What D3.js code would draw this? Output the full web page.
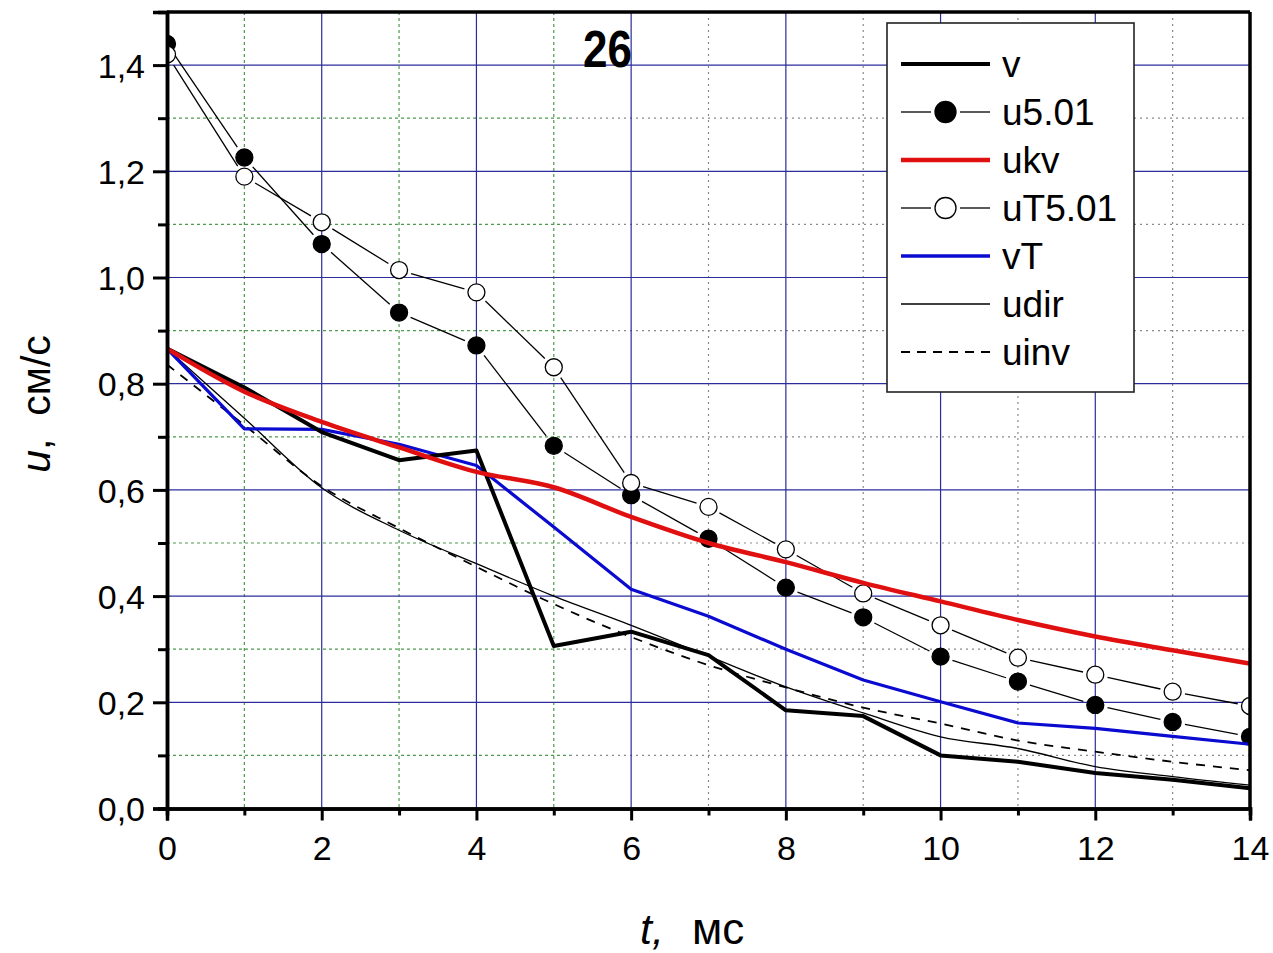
<!DOCTYPE html>
<html>
<head>
<meta charset="utf-8">
<script src="https://cdn.jsdelivr.net/npm/d3@7"></script>
<style>
  html, body { margin: 0; padding: 0; background: #fff; }
  svg { display: block; font-family: "Liberation Sans", Arial, sans-serif; }
</style>
</head>
<body>
<svg id="chart" width="1273" height="953"></svg>
<script>
// Time points, ms
const times = [0, 1, 2, 3, 4, 5, 6, 7, 8, 9, 10, 11, 12, 13, 14];

// Velocity series, cm/s
const v      = [0.866, 0.793, 0.709, 0.656, 0.674, 0.306, 0.333, 0.289, 0.185, 0.174, 0.100, 0.088, 0.067, 0.054, 0.038];
const u501   = [1.440, 1.226, 1.063, 0.934, 0.872, 0.683, 0.590, 0.508, 0.416, 0.360, 0.286, 0.239, 0.195, 0.163, 0.135];
const ukv    = [0.866, 0.785, 0.728, 0.680, 0.634, 0.605, 0.549, 0.500, 0.464, 0.425, 0.390, 0.355, 0.324, 0.298, 0.273];
const uT501  = [1.420, 1.190, 1.104, 1.014, 0.972, 0.831, 0.613, 0.568, 0.488, 0.405, 0.345, 0.284, 0.252, 0.220, 0.193];
const vT     = [0.866, 0.715, 0.714, 0.686, 0.646, 0.530, 0.413, 0.362, 0.300, 0.242, 0.201, 0.161, 0.151, 0.136, 0.121];
const udir   = [0.866, 0.735, 0.604, 0.524, 0.461, 0.400, 0.345, 0.287, 0.229, 0.180, 0.135, 0.113, 0.079, 0.060, 0.044];
const uinv   = [0.836, 0.722, 0.607, 0.528, 0.455, 0.385, 0.323, 0.270, 0.228, 0.190, 0.160, 0.128, 0.107, 0.088, 0.072];

// Axis ticks
const xMajorTicks = [0, 2, 4, 6, 8, 10, 12, 14];
const xMinorTicks = [1, 3, 5, 7, 9, 11, 13];
const yMajorTicks = [0, 0.2, 0.4, 0.6, 0.8, 1.0, 1.2, 1.4];
const yMinorTicks = [0.1, 0.3, 0.5, 0.7, 0.9, 1.1, 1.3];

const panelLabel = "26";
const legendNames = ["v", "u5.01", "ukv", "uT5.01", "vT", "udir", "uinv"];

const svg = d3.select("#chart");
const L = 167, R = 1250, T = 12, B = 808.5;

const x = d3.scaleLinear().domain([0, 14]).range([L, R]);
const y = d3.scaleLinear().domain([0, 1.5]).range([B, T]);

const gridBlue = "#2c2c9c";
const gridGreen = "#4f9a4f";
const gridGray = "#8a8a8a";
const greenEnd = 570;

// clip region for the plot
svg.append("defs").append("clipPath").attr("id", "plotClip")
  .append("rect").attr("x", L).attr("y", T).attr("width", R - L).attr("height", B - T);

const grid = svg.append("g");

// minor horizontal grid: green on the left part, gray on the right
yMinorTicks.forEach(d => {
  grid.append("line").attr("x1", L).attr("x2", greenEnd).attr("y1", y(d)).attr("y2", y(d))
    .attr("stroke", gridGreen).attr("stroke-width", 1.2).attr("stroke-dasharray", "3,3");
  grid.append("line").attr("x1", greenEnd).attr("x2", R).attr("y1", y(d)).attr("y2", y(d))
    .attr("stroke", gridGray).attr("stroke-width", 1.2).attr("stroke-dasharray", "2,4");
});
// minor vertical grid
xMinorTicks.forEach(d => {
  grid.append("line").attr("x1", x(d)).attr("x2", x(d)).attr("y1", T).attr("y2", B)
    .attr("stroke", d <= 5 ? gridGreen : gridGray).attr("stroke-width", 1.2)
    .attr("stroke-dasharray", d <= 5 ? "3,3" : "2,4");
});
// major grid
yMajorTicks.filter(d => d > 0).forEach(d => {
  grid.append("line").attr("x1", L).attr("x2", R).attr("y1", y(d)).attr("y2", y(d))
    .attr("stroke", gridBlue).attr("stroke-width", 1.2);
});
xMajorTicks.filter(d => d > 0 && d < 14).forEach(d => {
  grid.append("line").attr("x1", x(d)).attr("x2", x(d)).attr("y1", T).attr("y2", B)
    .attr("stroke", gridBlue).attr("stroke-width", 1.2);
});

const plot = svg.append("g").attr("clip-path", "url(#plotClip)");

function series(vals) { return times.map((t, i) => [t, vals[i]]); }

const lineLinear = d3.line().x(d => x(d[0])).y(d => y(d[1]));
const lineSmooth = d3.line().x(d => x(d[0])).y(d => y(d[1])).curve(d3.curveMonotoneX);

// thin reference curves
plot.append("path").attr("d", lineSmooth(series(udir)))
  .attr("fill", "none").attr("stroke", "#000").attr("stroke-width", 1.3);
plot.append("path").attr("d", lineSmooth(series(uinv)))
  .attr("fill", "none").attr("stroke", "#000").attr("stroke-width", 1.8).attr("stroke-dasharray", "9,8");

// marker series: connecting segments with gaps around the symbols
const markerR = 8.5;
function markerSeries(vals, filled) {
  const pts = series(vals).map(d => [x(d[0]), y(d[1])]);
  const g = plot.append("g");
  for (let i = 0; i < pts.length - 1; i++) {
    const [x1, y1] = pts[i], [x2, y2] = pts[i + 1];
    const len = Math.hypot(x2 - x1, y2 - y1);
    const gap = markerR + 4;
    if (len <= 2 * gap) continue;
    const ux = (x2 - x1) / len, uy = (y2 - y1) / len;
    g.append("line")
      .attr("x1", x1 + ux * gap).attr("y1", y1 + uy * gap)
      .attr("x2", x2 - ux * gap).attr("y2", y2 - uy * gap)
      .attr("stroke", "#000").attr("stroke-width", 1.3);
  }
  g.selectAll("circle").data(series(vals)).join("circle")
    .attr("cx", d => x(d[0])).attr("cy", d => y(d[1])).attr("r", markerR)
    .attr("fill", filled ? "#000" : "#fff").attr("stroke", "#000").attr("stroke-width", 1.3);
}
markerSeries(u501, true);
markerSeries(uT501, false);

plot.append("path").attr("d", lineLinear(series(vT)))
  .attr("fill", "none").attr("stroke", "#0a0ad0").attr("stroke-width", 3.2).attr("stroke-linejoin", "round");
plot.append("path").attr("d", lineLinear(series(v)))
  .attr("fill", "none").attr("stroke", "#000").attr("stroke-width", 4).attr("stroke-linejoin", "round");
plot.append("path").attr("d", lineSmooth(series(ukv)))
  .attr("fill", "none").attr("stroke", "#e01010").attr("stroke-width", 4.5).attr("stroke-linejoin", "round");

// frame
svg.append("line").attr("x1", L).attr("x2", R).attr("y1", T).attr("y2", T).attr("stroke", "#000").attr("stroke-width", 3.5);
svg.append("line").attr("x1", R).attr("x2", R).attr("y1", T).attr("y2", B).attr("stroke", "#000").attr("stroke-width", 3.5);

// axes
const yAxis = svg.append("g").attr("transform", `translate(${L},0)`)
  .call(d3.axisLeft(y).tickValues(yMajorTicks).tickSize(14).tickPadding(8)
    .tickFormat(d => d3.format(".1f")(d).replace(".", ",")));
svg.append("g").attr("transform", `translate(${L},0)`)
  .call(d3.axisLeft(y).tickValues(yMinorTicks).tickSize(9).tickFormat(""));
const xAxis = svg.append("g").attr("transform", `translate(0,${B})`)
  .call(d3.axisBottom(x).tickValues(xMajorTicks).tickSize(12).tickPadding(10).tickFormat(d3.format("d")));
svg.append("g").attr("transform", `translate(0,${B})`)
  .call(d3.axisBottom(x).tickValues(xMinorTicks).tickSize(7).tickFormat(""));

svg.selectAll(".domain").attr("stroke", "#000").attr("stroke-width", 3.5);
svg.selectAll(".tick line").attr("stroke", "#000").attr("stroke-width", 3);
svg.selectAll(".tick text").attr("font-family", "Liberation Sans, Arial, sans-serif")
  .attr("font-size", 34).attr("fill", "#000");
yAxis.selectAll(".tick text").attr("dy", "0.36em");
xAxis.selectAll(".tick text").attr("dy", "0.88em");

// axis titles
const yTitle = svg.append("text").attr("transform", "translate(50,404) rotate(-90)")
  .attr("text-anchor", "middle").attr("font-size", 41).attr("fill", "#000");
yTitle.append("tspan").attr("font-style", "italic").text("u");
yTitle.append("tspan").text(",\u00a0\u00a0см/с");

svg.append("text").attr("x", 640).attr("y", 944).attr("font-size", 43).attr("font-style", "italic").text("t,");
svg.append("text").attr("x", 692).attr("y", 944).attr("font-size", 44).text("мс");

// panel label
svg.append("text").attr("x", 583).attr("y", 67).attr("font-size", 52).attr("font-weight", "bold")
  .attr("textLength", 49).attr("lengthAdjust", "spacingAndGlyphs").text(panelLabel);

// legend
const lg = svg.append("g");
lg.append("rect").attr("x", 887).attr("y", 23).attr("width", 247).attr("height", 369)
  .attr("fill", "#fff").attr("stroke", "#222").attr("stroke-width", 1.6);
const legendStyles = [
  { stroke: "#000", w: 4 },
  { stroke: "#000", w: 1.3, marker: "filled" },
  { stroke: "#e01010", w: 4.5 },
  { stroke: "#000", w: 1.3, marker: "open" },
  { stroke: "#0a0ad0", w: 3.5 },
  { stroke: "#000", w: 1.3 },
  { stroke: "#000", w: 1.8, dash: "9,7" }
];
legendNames.forEach((name, i) => {
  const yy = 64 + i * 48;
  const st = legendStyles[i];
  const x1 = 901, x2 = 990, xm = 945.5, lr = 10.5;
  if (st.marker) {
    lg.append("line").attr("x1", x1).attr("x2", xm - lr - 4).attr("y1", yy).attr("y2", yy)
      .attr("stroke", st.stroke).attr("stroke-width", st.w);
    lg.append("line").attr("x1", xm + lr + 4).attr("x2", x2).attr("y1", yy).attr("y2", yy)
      .attr("stroke", st.stroke).attr("stroke-width", st.w);
    lg.append("circle").attr("cx", xm).attr("cy", yy).attr("r", lr)
      .attr("fill", st.marker === "filled" ? "#000" : "#fff").attr("stroke", "#000").attr("stroke-width", 1.3);
  } else {
    lg.append("line").attr("x1", x1).attr("x2", x2).attr("y1", yy).attr("y2", yy)
      .attr("stroke", st.stroke).attr("stroke-width", st.w)
      .attr("stroke-dasharray", st.dash || null);
  }
  lg.append("text").attr("x", 1002).attr("y", yy + 13).attr("font-size", 37).attr("fill", "#000").text(name);
});
</script>
</body>
</html>
